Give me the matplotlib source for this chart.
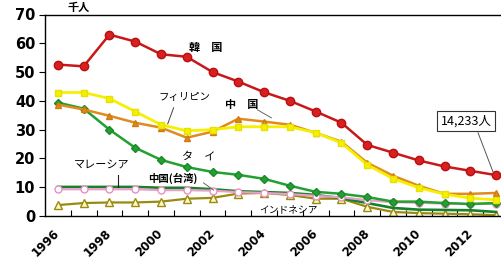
import matplotlib
matplotlib.use("Agg")
import matplotlib.pyplot as plt
import numpy as np

plt.rcParams['font.family'] = ['Noto Sans CJK JP', 'DejaVu Sans']

# Data (thousand persons)
years = list(range(1996, 2014))
korea = [52.6, 52.0, 63.0, 60.6, 56.2, 55.3, 50.0, 46.7, 43.0, 40.0, 36.3, 32.4, 24.7, 22.0, 19.3, 17.2, 15.7, 14.2]
philippines = [42.9, 42.9, 40.8, 36.3, 31.7, 29.6, 30.0, 31.0, 31.0, 31.0, 28.9, 25.4, 17.8, 13.0, 9.8, 7.6, 6.2, 5.6]
china = [38.7, 37.0, 34.8, 32.4, 30.7, 27.2, 29.3, 33.8, 32.8, 31.7, 28.9, 25.8, 18.5, 14.0, 10.5, 7.7, 7.7, 8.0]
thailand = [39.4, 37.3, 30.0, 23.7, 19.5, 17.0, 15.3, 14.3, 12.9, 10.5, 8.4, 7.7, 6.6, 5.0, 5.0, 4.5, 4.2, 4.5]
taiwan = [9.3, 9.3, 9.3, 9.3, 9.0, 9.0, 8.8, 8.3, 8.0, 7.6, 7.0, 6.5, 5.5, 4.8, 4.6, 4.3, 4.1, 4.3]
malaysia = [10.1, 10.1, 10.1, 10.1, 9.8, 9.8, 9.3, 8.6, 8.3, 8.0, 7.3, 6.2, 4.5, 2.8, 2.2, 2.1, 2.0, 1.4]
indonesia = [3.8, 4.5, 4.7, 4.7, 5.0, 6.0, 6.3, 7.8, 8.0, 7.3, 6.0, 6.0, 3.2, 1.4, 1.0, 0.8, 0.6, 0.3]
last_label = "14,233人"

x = np.arange(len(years))

fig = plt.figure(figsize=(5.02, 2.63), dpi=100)
ax = fig.add_axes([45 / 502, 1 - 216 / 263, 464 / 502, 201.5 / 263])

ax.plot(x, indonesia, color='#9a8a10', lw=1.6, marker='^', ms=6, mfc='#fdf8c8', mec='#9a8a10', mew=1.0)
ax.plot(x, malaysia, color='#16802a', lw=1.9)
ax.plot(x, taiwan, color='#e8a0c8', lw=1.6, marker='o', ms=5, mfc='white', mec='#e890c0', mew=1.0)
ax.plot(x, thailand, color='#22a032', lw=1.8, marker='D', ms=4.5, mfc='#22a032', mec='#1a8a28')
ax.plot(x, china, color='#e08a20', lw=1.8, marker='^', ms=5, mfc='#e08a20', mec='#d07a10')
ax.plot(x, philippines, color='#f4f000', lw=2.0, marker='s', ms=4.5, mfc='#f4f000', mec='#e8e000')
ax.plot(x, korea, color='#c81818', lw=1.8, marker='o', ms=6, mfc='#d82020', mec='#b81010')

ax.set_xlim(-0.5, 17.5)
ax.set_ylim(0, 70)
ax.set_yticks(range(0, 71, 10))
ax.set_xticks(x[::2])
ax.set_xticklabels([str(y) for y in years[::2]], rotation=45, ha='right', va='center',
                   rotation_mode='anchor', fontsize=8.5, fontweight='bold', family='DejaVu Sans')
ax.set_xticks(np.arange(0.5, 17.5, 1), minor=True)
ax.tick_params(axis='x', which='major', length=0, pad=11)
ax.tick_params(axis='x', which='minor', direction='in', length=4, width=0.8)
ax.tick_params(axis='y', direction='out', length=4, width=0.8, pad=3)
for lab in ax.get_yticklabels():
    lab.set_fontsize(10.5)
    lab.set_fontweight('bold')
    lab.set_family('DejaVu Sans')
for s in ['left', 'bottom', 'top']:
    ax.spines[s].set_linewidth(1.0)
ax.spines['right'].set_visible(False)

fig.text(79 / 502, 1 - 1 / 263, '千人', ha='center', va='top', fontsize=8, fontweight='bold')

# series labels
ax.text(5.73, 58.5, '韓　国', ha='center', va='center', fontsize=8, fontweight='bold')
ax.text(4.92, 41.4, 'フィリピン', ha='center', va='center', fontsize=7.5)
ax.plot([4.49, 4.26], [37.6, 32.0], color='#444444', lw=0.7)
ax.text(7.12, 38.6, '中　国', ha='center', va='center', fontsize=8, fontweight='bold')
ax.plot([7.74, 8.28], [36.9, 34.1], color='#666666', lw=0.7)
ax.text(5.46, 20.5, 'タ　イ', ha='center', va='center', fontsize=8)
ax.text(1.70, 17.7, 'マレーシア', ha='center', va='center', fontsize=8)
ax.plot([2.32, 2.32], [14.3, 10.1], color='#222222', lw=0.8)
ax.text(4.45, 13.2, '中国(台湾)', ha='center', va='center', fontsize=7.5, fontweight='bold')
ax.plot([5.65, 6.04], [11.5, 9.0], color='#666666', lw=0.7)
ax.text(8.94, 2.4, 'インドネシア', ha='center', va='center', fontsize=7)
ax.text(15.83, 33.0, last_label, ha='center', va='center', fontsize=9,
        bbox=dict(boxstyle='square,pad=0.3', fc='white', ec='#333333', lw=0.8))
ax.plot([16.3, 16.88], [28.9, 15.3], color='#555555', lw=0.7)

fig.savefig('out.png', dpi=100)
